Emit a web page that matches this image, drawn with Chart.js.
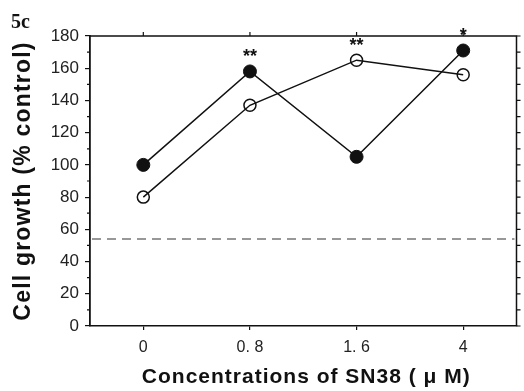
<!DOCTYPE html>
<html>
<head>
<meta charset="utf-8">
<script src="https://cdn.jsdelivr.net/npm/chart.js@4"></script>
<style>
  html, body { margin: 0; padding: 0; background: #fff; }
  #wrap { width: 524px; height: 391px; }
</style>
</head>
<body>
<div id="wrap"><canvas id="c" width="524" height="391"></canvas></div>
<script>
// SN38 concentrations (µM) and growth values (% of control)
const concentrations = ['0', '0. 8', '1. 6', '4'];
const filledSeries = [100, 158, 105, 171];
const openSeries = [80, 137, 165, 156];
const significance = ['', '**', '**', '*'];
const referenceLevel = 54;
const yMin = 0, yMax = 180, yStep = 20, yMinorStep = 10;
const xTitle = 'Concentrations of SN38 ( μ M)';
const yTitle = 'Cell growth (% control)';
const panelLabel = '5c';

const INK = '#111';
const SANS = '"Liberation Sans", Arial, sans-serif';

// frame, minor ticks, dashed reference line, significance marks, titles
const framePlugin = {
  id: 'frame',
  beforeDatasetsDraw(chart) {
    const { ctx, chartArea: a, scales: { y } } = chart;
    const py = y.getPixelForValue(referenceLevel);
    ctx.save();
    ctx.strokeStyle = '#777';
    ctx.lineWidth = 1.3;
    ctx.setLineDash([9, 6]);
    ctx.beginPath();
    ctx.moveTo(a.left + 2, py);
    ctx.lineTo(a.right - 2, py);
    ctx.stroke();
    ctx.restore();
  },
  afterDatasetsDraw(chart) {
    const { ctx, chartArea: a, scales: { x, y } } = chart;
    ctx.save();
    ctx.strokeStyle = INK;
    ctx.lineWidth = 1.5;
    // top and right edges
    ctx.beginPath();
    ctx.moveTo(a.left, a.top);
    ctx.lineTo(a.right, a.top);
    ctx.lineTo(a.right, a.bottom);
    ctx.stroke();
    ctx.lineWidth = 1.2;
    ctx.beginPath();
    // top ticks at categories
    concentrations.forEach((c, i) => {
      const px = x.getPixelForValue(i);
      ctx.moveTo(px, a.top);
      ctx.lineTo(px, a.top - 4);
    });
    // right ticks every minor step
    for (let v = yMin; v <= yMax; v += yMinorStep) {
      const py = y.getPixelForValue(v);
      ctx.moveTo(a.right, py);
      ctx.lineTo(a.right + 4, py);
    }
    // left minor ticks
    for (let v = yMin + yMinorStep; v < yMax; v += yStep) {
      const py = y.getPixelForValue(v);
      ctx.moveTo(a.left, py);
      ctx.lineTo(a.left - 3, py);
    }
    ctx.stroke();

    // significance marks above the highest point of each concentration
    ctx.fillStyle = INK;
    ctx.font = 'bold 18px ' + SANS;
    ctx.textAlign = 'center';
    ctx.textBaseline = 'middle';
    significance.forEach((s, i) => {
      if (!s) return;
      const top = Math.max(filledSeries[i], openSeries[i]);
      ctx.fillText(s, x.getPixelForValue(i), y.getPixelForValue(top) - 14);
    });

    // axis titles (slightly letter-spaced)
    ctx.font = 'bold 21px ' + SANS;
    ctx.letterSpacing = '1px';
    ctx.textBaseline = 'middle';
    ctx.fillText(xTitle, (a.left + a.right) / 2 + 3, 377);
    ctx.save();
    ctx.translate(24, (a.top + a.bottom) / 2);
    ctx.rotate(-Math.PI / 2);
    ctx.font = 'bold 23px ' + SANS;
    ctx.letterSpacing = '1.2px';
    ctx.fillText(yTitle, 0, 0);
    ctx.restore();

    // panel label
    ctx.letterSpacing = '0px';
    ctx.font = 'bold 20px "Liberation Serif", "DejaVu Serif", serif';
    ctx.textAlign = 'left';
    ctx.textBaseline = 'alphabetic';
    ctx.fillText(panelLabel, 11, 28);
    ctx.restore();
  }
};

new Chart(document.getElementById('c'), {
  type: 'line',
  data: {
    labels: concentrations,
    datasets: [
      {
        label: 'filled',
        data: filledSeries,
        borderColor: INK,
        borderWidth: 1.5,
        backgroundColor: INK,
        pointBackgroundColor: INK,
        pointBorderColor: INK,
        pointRadius: 6.5,
        pointBorderWidth: 1,
        tension: 0
      },
      {
        label: 'open',
        data: openSeries,
        borderColor: INK,
        borderWidth: 1.5,
        backgroundColor: 'rgba(0,0,0,0)',
        pointBackgroundColor: 'rgba(0,0,0,0)',
        pointBorderColor: INK,
        pointRadius: 6,
        pointBorderWidth: 1.5,
        tension: 0
      }
    ]
  },
  options: {
    responsive: false,
    animation: false,
    layout: { padding: { top: 36, right: 3, left: 0, bottom: 0 } },
    plugins: { legend: { display: false }, tooltip: { enabled: false } },
    scales: {
      x: {
        type: 'category',
        offset: true,
        afterFit(s) { s.height = 65; },
        border: { display: true, color: INK, width: 1.5 },
        grid: { drawOnChartArea: false, drawTicks: true, tickLength: 4, color: INK, lineWidth: 1.2 },
        ticks: {
          color: '#222',
          padding: 8,
          font: { family: SANS, size: 16 }
        }
      },
      y: {
        min: yMin,
        max: yMax,
        afterFit(s) { s.width = 90; },
        border: { display: true, color: INK, width: 1.8 },
        grid: { drawOnChartArea: false, drawTicks: true, tickLength: 5, color: INK, lineWidth: 1.2 },
        ticks: {
          stepSize: yStep,
          color: '#222',
          padding: 6,
          font: { family: SANS, size: 17 }
        }
      }
    }
  },
  plugins: [framePlugin]
});
</script>
</body>
</html>
